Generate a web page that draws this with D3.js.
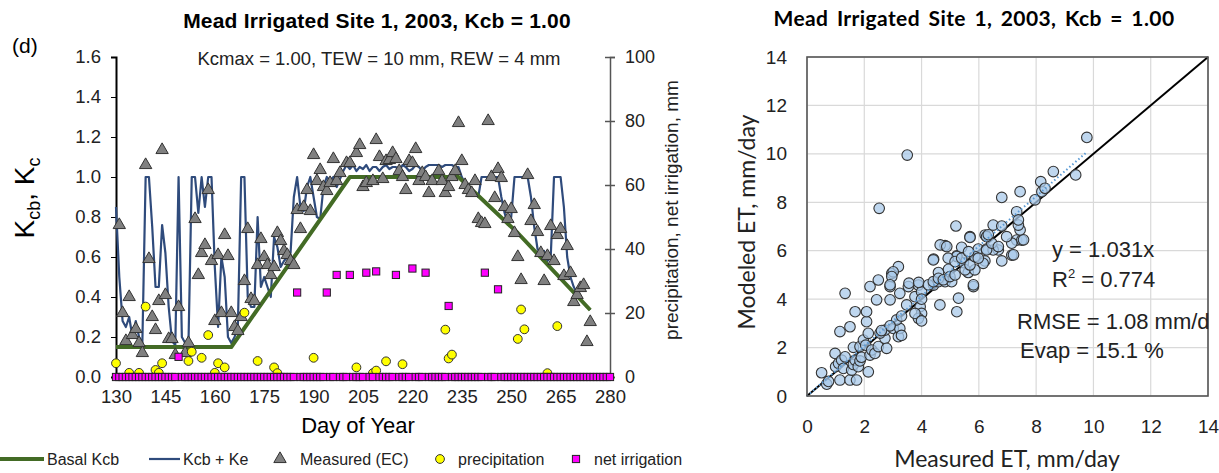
<!DOCTYPE html>
<html>
<head>
<meta charset="utf-8">
<script src="https://cdn.jsdelivr.net/npm/d3@7"></script>
<style>
body { margin: 0; background: #fff; }
svg { display: block; font-family: "Liberation Sans", Arial, sans-serif; }
</style>
</head>
<body>
<svg width="1219" height="473"></svg>
<script>
// ---- data: left panel (daily crop coefficients) ----
var kTicks = [0, 0.2, 0.4, 0.6, 0.8, 1.0, 1.2, 1.4, 1.6];
var dayTicks = [130, 145, 160, 175, 190, 205, 220, 235, 250, 265, 280];
var mmTicks = [0, 20, 40, 60, 80, 100];

// basal Kcb curve vertices [day, Kcb]
var basalKcb = [[130, 0.15], [165, 0.15], [201, 1.0], [234, 1.0], [252, 0.72], [274, 0.335]];

// Kcb + Ke, one value a day from day 130
var kcbKeStart = 130;
var kcbKe = [
  0.85, 0.50, 0.28, 0.25, 0.30, 0.20, 0.28, 0.20, 0.17, 1.00,
  1.00, 0.75, 0.45, 0.45, 0.76, 0.62, 0.35, 0.18, 0.16, 1.00,
  0.20, 0.17, 0.16, 1.00, 1.00, 0.82, 1.00, 0.85, 1.00, 1.00,
  0.55, 0.25, 0.60, 0.50, 0.20, 0.17, 0.20, 0.25, 1.00, 1.00,
  0.40, 0.35, 0.35, 0.80, 0.45, 0.50, 0.45, 0.40, 0.70, 0.65,
  0.55, 0.58, 0.60, 0.62, 0.90, 1.00, 0.85, 0.83, 0.95, 1.00,
  0.90, 0.80, 0.79, 0.95, 1.00, 0.98, 1.00, 0.95, 0.99, 1.03,
  1.06, 1.04, 1.06, 1.03, 1.05, 1.04, 1.06, 1.03, 1.05, 1.05,
  1.03, 1.05, 1.06, 1.04, 1.05, 1.05, 1.03, 1.06, 1.05, 1.03,
  1.04, 1.06, 1.05, 1.03, 1.05, 1.06, 1.06, 1.06, 1.06, 1.05,
  1.06, 1.06, 1.06, 1.05, 1.05, 1.00, 0.97, 0.95, 0.93, 0.92,
  0.90, 1.00, 1.00, 1.00, 1.00, 1.00, 1.00, 0.90, 0.82, 0.76,
  0.80, 1.00, 1.00, 1.00, 1.00, 1.00, 0.90, 0.75, 0.64, 0.62,
  0.63, 0.58, 0.60, 1.00, 1.00, 1.00, 0.85, 0.60, 0.50, 0.45,
  0.42, 0.39, 0.37, 0.35, 0.335
];

// measured (eddy covariance) Kc [day, Kc]
var measuredKc = [
  [131, 0.76], [132, 0.32], [133, 0.18], [134, 0.40], [135, 0.21], [136, 0.24], [137, 0.17],
  [138, 0.12], [139, 1.06], [140, 0.59], [141, 0.30], [142, 0.235], [143, 0.38], [144, 1.135],
  [145, 0.41], [146, 0.19], [147, 0.19], [148, 0.11], [149, 0.35], [151, 0.12], [152, 0.17],
  [154, 0.79], [155, 0.51], [156, 0.62], [157, 0.66], [158, 0.935], [159, 0.58], [160, 0.28],
  [161, 0.61], [162, 0.32], [163, 0.71], [164, 0.605], [165, 0.32], [166, 0.25], [167, 0.23],
  [168, 0.30], [169, 0.48], [170, 0.74], [171, 0.39], [172, 0.38], [173, 0.56], [174, 0.69],
  [175, 0.60], [176, 0.56], [177, 0.51], [178, 0.55], [179, 0.72], [180, 0.68], [181, 0.63],
  [182, 0.61], [183, 0.58], [184, 0.56], [185, 0.835], [186, 0.74], [187, 0.85], [188, 0.935],
  [189, 0.83], [190, 1.11], [191, 0.98], [192, 1.035], [193, 0.95], [194, 0.93], [195, 0.97],
  [196, 1.09], [197, 0.98], [198, 1.02], [200, 1.07], [201, 1.07], [203, 1.12], [204, 1.16],
  [205, 0.95], [206, 0.97], [208, 0.98], [209, 1.185], [210, 1.10], [211, 0.99], [212, 1.08],
  [213, 1.085], [214, 1.12], [215, 1.09], [216, 1.03], [217, 1.00], [218, 0.935], [219, 1.08],
  [220, 1.07], [221, 1.14], [222, 0.98], [223, 1.02], [224, 1.00], [225, 0.92], [226, 0.98],
  [228, 1.03], [229, 0.98], [230, 0.92], [231, 0.95], [232, 1.00], [233, 1.03], [234, 1.27],
  [235, 1.08], [236, 0.96], [237, 0.935], [238, 0.92], [239, 0.98], [240, 0.79], [241, 0.77],
  [242, 0.765], [243, 1.28], [244, 1.00], [245, 0.895], [246, 1.04], [247, 0.995], [248, 0.85],
  [249, 0.79], [250, 0.84], [251, 0.72], [252, 0.60], [253, 0.485], [255, 1.01], [256, 0.78],
  [257, 0.86], [258, 0.725], [259, 0.62], [260, 0.48], [261, 0.605], [262, 0.755], [263, 0.58],
  [264, 0.71], [265, 0.74], [266, 0.505], [267, 0.655], [268, 0.52], [269, 0.375], [270, 0.41],
  [271, 0.445], [272, 0.46], [273, 0.175], [274, 0.275]
];

// precipitation events [day, mm]
var precipitation = [
  [130, 4.3], [134, 1.3], [137, 1.3], [139, 22], [142, 2.2], [143, 1.3], [144, 4.3],
  [152, 5], [153, 7.9], [156, 6], [158, 13.1], [160, 1.3], [161, 4.3], [163, 3],
  [169, 20.1], [173, 5], [178, 3], [179, 1.2], [190, 6], [203, 3], [208, 1.2], [209, 2],
  [212, 4.9], [217, 4], [230, 14.8], [231, 5.8], [232, 7], [252, 11.9], [253, 21.1],
  [254, 14.9], [261, 1.2], [264, 15.9]
];

// net irrigation events [day, mm]; every other day from 130 to 280 is 0
var irrigationDays = [130, 280];
var irrigation = [
  [149, 6.3], [185, 26.4], [194, 26.4], [197, 31.9], [201, 31.9], [206, 32.6], [209, 33],
  [215, 31.9], [220, 33.9], [224, 32.6], [231, 22.2], [242, 32.6], [246, 27.4]
];

// ---- data: right panel (daily ET) ----
var etTicks = [0, 2, 4, 6, 8, 10, 12, 14];
var slope = 1.031;
// [measured ET, modeled ET] mm/day
var etPoints = [
  [0.51, 0.96], [0.69, 0.49], [0.75, 0.60], [0.98, 1.76], [1.00, 1.21], [1.10, 1.35], [1.15, 0.66],
  [1.21, 1.48], [1.27, 1.14], [1.33, 1.62], [1.50, 0.66], [1.56, 1.07], [1.62, 1.30], [1.68, 1.48],
  [1.73, 0.66], [1.79, 1.21], [1.85, 1.45], [1.90, 1.60], [2.14, 1.00], [2.20, 1.69], [1.62, 2.01],
  [1.85, 2.04], [1.97, 2.31], [2.05, 2.10], [2.14, 2.59], [2.08, 3.07], [2.26, 1.90], [2.37, 1.76],
  [2.49, 2.04], [2.72, 2.38], [2.78, 1.97], [2.72, 2.72], [2.55, 2.60], [3.01, 2.79], [3.19, 2.45],
  [3.24, 2.79], [3.13, 3.14], [2.90, 2.90], [1.15, 2.66], [1.50, 2.86], [1.68, 3.48], [2.08, 3.48],
  [1.33, 4.24], [2.20, 4.52], [2.49, 4.79], [2.90, 4.52], [2.96, 5.06], [3.19, 5.34], [3.01, 5.13],
  [2.43, 3.97], [2.90, 3.97], [3.24, 4.24], [3.54, 4.52], [3.48, 3.76], [3.77, 4.10], [3.89, 4.58],
  [4.00, 4.30], [3.95, 3.69], [4.00, 3.41], [3.89, 3.21], [3.77, 3.41], [4.00, 3.10], [4.42, 4.58],
  [4.59, 4.72], [4.82, 4.72], [5.05, 4.72], [4.64, 3.76], [5.23, 3.48], [5.29, 4.04], [5.81, 4.52],
  [4.42, 5.65], [4.59, 5.10], [4.94, 5.23], [5.23, 5.79], [5.46, 5.51], [5.63, 5.10], [4.82, 6.21],
  [4.65, 6.24], [4.88, 6.17], [5.40, 6.14], [5.98, 6.07], [6.27, 6.07], [6.21, 5.58], [6.68, 6.03],
  [6.80, 5.58], [5.23, 5.76], [5.69, 6.58], [7.32, 6.44], [7.50, 6.44], [7.15, 5.82], [6.50, 6.03],
  [6.22, 6.65], [3.56, 4.66], [3.90, 4.69], [4.24, 4.59], [4.41, 4.72], [4.59, 4.86], [4.76, 4.80],
  [4.99, 4.93], [5.17, 5.00], [5.52, 5.21], [5.86, 5.21], [5.69, 5.41], [6.15, 5.48], [4.41, 5.62],
  [4.93, 5.69], [5.17, 5.55], [5.40, 5.69], [5.86, 5.76], [5.98, 5.69], [5.64, 5.96], [6.27, 6.03],
  [6.45, 6.31], [6.68, 6.17], [7.15, 6.31], [7.21, 5.83], [6.97, 6.58], [6.27, 6.58], [7.56, 6.45],
  [7.44, 6.86], [7.38, 7.06], [6.50, 7.06], [6.80, 7.02], [5.69, 6.55], [5.20, 7.02], [6.33, 6.66],
  [7.32, 7.61], [7.38, 7.27], [7.44, 8.44], [6.80, 8.20], [7.96, 8.10], [8.20, 8.44], [8.16, 8.85],
  [8.31, 8.58], [8.60, 9.27], [9.38, 9.13], [9.77, 10.68], [3.50, 9.95], [2.52, 7.75], [5.81, 4.59],
  [2.96, 4.93], [2.90, 4.59], [3.30, 3.30], [2.60, 2.70], [3.30, 2.50], [4.00, 4.00]
];

var svg = d3.select('svg');

// ================= left panel =================
var x = d3.scaleLinear().domain([130, 280]).range([116, 610]);
var y = d3.scaleLinear().domain([0, 1.6]).range([377, 57]);
var y2 = d3.scaleLinear().domain([0, 100]).range([377, 57]);

var left = svg.append('g');

left.append('text').attr('x', 377).attr('y', 28).attr('text-anchor', 'middle')
    .attr('font-size', 21).attr('font-weight', 'bold').attr('letter-spacing', 0.2)
    .text('Mead Irrigated Site 1, 2003, Kcb = 1.00');
left.append('text').attr('x', 379).attr('y', 65).attr('text-anchor', 'middle')
    .attr('font-size', 18.5).attr('fill', '#222')
    .text('Kcmax = 1.00, TEW = 10 mm, REW = 4 mm');
left.append('text').attr('x', 12).attr('y', 53).attr('font-size', 21).text('(d)');

var yAxis = d3.axisLeft(y).tickValues(kTicks).tickSize(5).tickPadding(10)
    .tickFormat(d3.format('.1f'));
var gy = left.append('g').attr('transform', 'translate(116,0)').call(yAxis);
gy.select('.domain').attr('stroke', '#000').attr('stroke-width', 2);
gy.selectAll('text').attr('font-size', 18.5).attr('fill', '#222').attr('font-family', null);

var y2Axis = d3.axisRight(y2).tickValues(mmTicks).tickSize(5).tickPadding(10);
var gy2 = left.append('g').attr('transform', 'translate(610,0)').call(y2Axis);
gy2.select('.domain').attr('stroke', '#555').attr('stroke-width', 1.5);
gy2.selectAll('.tick line').attr('x1', -5).attr('stroke', '#555').attr('stroke-width', 1.5);
gy2.selectAll('text').attr('font-size', 18).attr('fill', '#222').attr('font-family', null);

var xAxis = d3.axisBottom(x).tickValues(dayTicks).tickSize(4).tickPadding(9);
var gx = left.append('g').attr('transform', 'translate(0,377)').call(xAxis);
gx.select('.domain').attr('stroke', '#000').attr('stroke-width', 1.5);
gx.selectAll('text').attr('font-size', 18.5).attr('fill', '#222').attr('font-family', null);

// axis titles
var ky = left.append('text').attr('transform', 'translate(34,198) rotate(-90)')
    .attr('text-anchor', 'middle').attr('font-size', 28);
ky.append('tspan').text('K');
ky.append('tspan').attr('font-size', 18).attr('dy', 6).text('cb');
ky.append('tspan').attr('dy', -6).text(', K');
ky.append('tspan').attr('font-size', 18).attr('dy', 6).text('c');

left.append('text').attr('transform', 'translate(678,210) rotate(-90)')
    .attr('text-anchor', 'middle').attr('font-size', 19).attr('fill', '#222')
    .text('precipitation, net irrigation, mm');
left.append('text').attr('x', 358).attr('y', 433).attr('text-anchor', 'middle')
    .attr('font-size', 22).text('Day of Year');

// Kcb + Ke line
var kcbKeLine = d3.line()
    .x(function (d, i) { return x(kcbKeStart + i); })
    .y(function (d) { return y(d); });
left.append('path').datum(kcbKe).attr('d', kcbKeLine)
    .attr('fill', 'none').attr('stroke', '#2f4b7c').attr('stroke-width', 2.2)
    .attr('stroke-linejoin', 'round');

// basal Kcb
var basalLine = d3.line()
    .x(function (d) { return x(d[0]); })
    .y(function (d) { return y(d[1]); });
left.append('path').datum(basalKcb).attr('d', basalLine)
    .attr('fill', 'none').attr('stroke', '#436b25').attr('stroke-width', 4)
    .attr('stroke-linejoin', 'round');

// measured triangles
var tri = d3.symbol().type(d3.symbolTriangle).size(66);
left.selectAll('path.meas').data(measuredKc).enter().append('path')
    .attr('class', 'meas').attr('d', tri)
    .attr('transform', function (d) { return 'translate(' + x(d[0]) + ',' + y(d[1]) + ')'; })
    .attr('fill', '#808080').attr('stroke', '#333').attr('stroke-width', 1);

// precipitation circles
left.selectAll('circle.prcp').data(precipitation).enter().append('circle')
    .attr('class', 'prcp')
    .attr('cx', function (d) { return x(d[0]); })
    .attr('cy', function (d) { return y2(d[1]); })
    .attr('r', 4.4).attr('fill', '#ffff00').attr('stroke', '#333').attr('stroke-width', 1);

// net irrigation squares, one per day
var irrigationByDay = new Map(irrigation);
var irrigationSeries = d3.range(irrigationDays[0], irrigationDays[1] + 1).map(function (d) {
  return [d, irrigationByDay.has(d) ? irrigationByDay.get(d) : 0];
});
left.selectAll('rect.irr').data(irrigationSeries).enter().append('rect')
    .attr('class', 'irr')
    .attr('x', function (d) { return x(d[0]) - 3.6; })
    .attr('y', function (d) { return y2(d[1]) - 3.6; })
    .attr('width', 7.2).attr('height', 7.2)
    .attr('fill', '#ff00ff').attr('stroke', '#222').attr('stroke-width', 1);

// legend
var lg = left.append('g').attr('font-size', 16).attr('fill', '#222');
lg.append('line').attr('x1', 0).attr('x2', 44).attr('y1', 459).attr('y2', 459)
    .attr('stroke', '#436b25').attr('stroke-width', 4);
lg.append('text').attr('x', 47).attr('y', 465).text('Basal Kcb');
lg.append('line').attr('x1', 149).attr('x2', 180).attr('y1', 459).attr('y2', 459)
    .attr('stroke', '#2f4b7c').attr('stroke-width', 2.2);
lg.append('text').attr('x', 183).attr('y', 465).text('Kcb + Ke');
lg.append('path').attr('d', tri).attr('transform', 'translate(280,459)')
    .attr('fill', '#808080').attr('stroke', '#333');
lg.append('text').attr('x', 300).attr('y', 465).text('Measured (EC)');
lg.append('circle').attr('cx', 440).attr('cy', 459).attr('r', 4.4)
    .attr('fill', '#ffff00').attr('stroke', '#333');
lg.append('text').attr('x', 458).attr('y', 465).text('precipitation');
lg.append('rect').attr('x', 572.4).attr('y', 455.4).attr('width', 7.2).attr('height', 7.2)
    .attr('fill', '#ff00ff').attr('stroke', '#222');
lg.append('text').attr('x', 594).attr('y', 465).text('net irrigation');

// ================= right panel =================
var sx = d3.scaleLinear().domain([0, 14]).range([807, 1208]);
var sy = d3.scaleLinear().domain([0, 14]).range([396, 57]);
var right = svg.append('g').attr('font-family', 'Lato, "Open Sans", sans-serif');

right.append('text').attr('x', 974).attr('y', 26).attr('text-anchor', 'middle')
    .attr('font-size', 21).attr('font-weight', 'bold')
    .attr('letter-spacing', 0.4).attr('word-spacing', 3)
    .text('Mead Irrigated Site 1, 2003, Kcb = 1.00');

// grid
right.selectAll('line.gx').data(etTicks).enter().append('line')
    .attr('x1', function (d) { return sx(d); }).attr('x2', function (d) { return sx(d); })
    .attr('y1', sy(0)).attr('y2', sy(14)).attr('stroke', '#d9d9d9').attr('stroke-width', 1.2);
right.selectAll('line.gy').data(etTicks).enter().append('line')
    .attr('y1', function (d) { return sy(d); }).attr('y2', function (d) { return sy(d); })
    .attr('x1', sx(0)).attr('x2', sx(14)).attr('stroke', '#d9d9d9').attr('stroke-width', 1.2);

var sxAxis = d3.axisBottom(sx).tickValues(etTicks).tickSize(0).tickPadding(24);
var gsx = right.append('g').attr('transform', 'translate(0,396)').call(sxAxis);
gsx.select('.domain').remove();
gsx.selectAll('text').attr('font-size', 19).attr('fill', '#222').attr('font-family', null);

var syAxis = d3.axisLeft(sy).tickValues(etTicks).tickSize(0).tickPadding(20);
var gsy = right.append('g').attr('transform', 'translate(807,0)').call(syAxis);
gsy.select('.domain').remove();
gsy.selectAll('text').attr('font-size', 19).attr('fill', '#222').attr('font-family', null);

right.append('text').attr('x', 1007).attr('y', 467).attr('text-anchor', 'middle')
    .attr('font-size', 23).attr('fill', '#222').text('Measured  ET, mm/day');
right.append('text').attr('transform', 'translate(755,222) rotate(-90)')
    .attr('text-anchor', 'middle').attr('font-size', 23).attr('fill', '#222')
    .text('Modeled  ET, mm/day');

// 1:1 line
right.append('line').attr('x1', sx(0)).attr('y1', sy(0)).attr('x2', sx(14)).attr('y2', sy(14))
    .attr('stroke', '#000').attr('stroke-width', 2);

// points
right.selectAll('circle.et').data(etPoints).enter().append('circle')
    .attr('class', 'et')
    .attr('cx', function (d) { return sx(d[0]); })
    .attr('cy', function (d) { return sy(d[1]); })
    .attr('r', 5.3).attr('fill', '#a9c9ea').attr('fill-opacity', 0.75)
    .attr('stroke', '#333').attr('stroke-width', 1.1);

// regression through origin (dotted)
var xMax = d3.max(etPoints, function (d) { return d[0]; });
right.append('line').attr('x1', sx(0)).attr('y1', sy(0))
    .attr('x2', sx(xMax)).attr('y2', sy(slope * xMax))
    .attr('stroke', '#5b9bd5').attr('stroke-width', 2).attr('stroke-dasharray', '1.5,2.5');

// frame
right.append('rect').attr('x', sx(0)).attr('y', sy(14))
    .attr('width', sx(14) - sx(0)).attr('height', sy(0) - sy(14))
    .attr('fill', 'none').attr('stroke', '#555').attr('stroke-width', 1.6);

// statistics
var st = right.append('g').attr('font-family', '"Liberation Sans", Arial, sans-serif')
    .attr('font-size', 22).attr('fill', '#222');
st.append('text').attr('x', 1052).attr('y', 257).text('y = ' + slope + 'x');
var r2 = st.append('text').attr('x', 1052).attr('y', 287);
r2.append('tspan').text('R');
r2.append('tspan').attr('font-size', 13).attr('dy', -9).text('2');
r2.append('tspan').attr('dy', 9).text(' = 0.774');
st.append('text').attr('x', 1017).attr('y', 329).text('RMSE = 1.08 mm/d');
st.append('text').attr('x', 1020).attr('y', 358).text('Evap = 15.1 %');
</script>
</body>
</html>
